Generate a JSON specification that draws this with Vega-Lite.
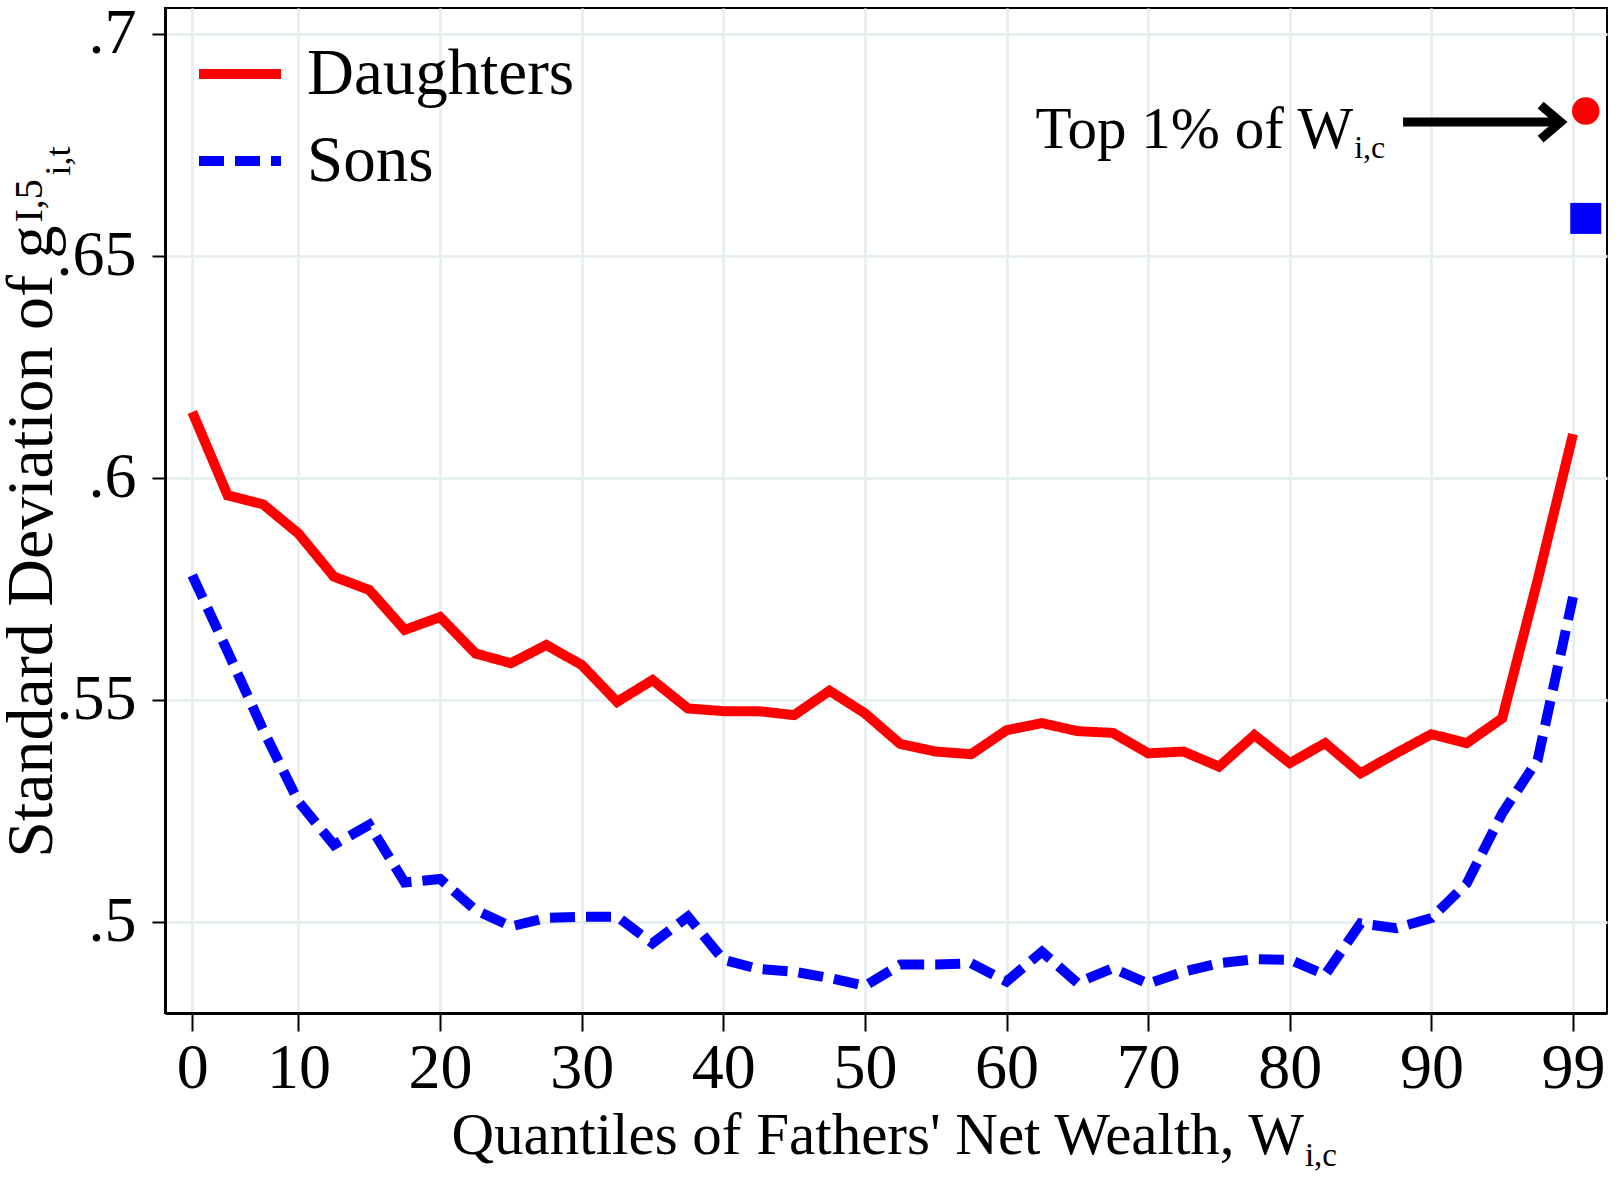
{
  "$schema": "https://vega.github.io/schema/vega-lite/v6.json",
  "width": 1442,
  "height": 1005,
  "autosize": {"type": "none"},
  "padding": {"left": 165, "top": 8, "right": 13, "bottom": 170},
  "background": "white",
  "config": {
    "view": {"stroke": "black", "strokeWidth": 2},
    "font": "Liberation Serif",
    "text": {"font": "Liberation Serif", "color": "black"}
  },
  "datasets": {
    "series": [
      {"idx": 0, "sd": 0.6148, "group": "Daughters"},
      {"idx": 1, "sd": 0.5960, "group": "Daughters"},
      {"idx": 2, "sd": 0.5940, "group": "Daughters"},
      {"idx": 3, "sd": 0.5874, "group": "Daughters"},
      {"idx": 4, "sd": 0.5777, "group": "Daughters"},
      {"idx": 5, "sd": 0.5747, "group": "Daughters"},
      {"idx": 6, "sd": 0.5657, "group": "Daughters"},
      {"idx": 7, "sd": 0.5686, "group": "Daughters"},
      {"idx": 8, "sd": 0.5604, "group": "Daughters"},
      {"idx": 9, "sd": 0.5582, "group": "Daughters"},
      {"idx": 10, "sd": 0.5623, "group": "Daughters"},
      {"idx": 11, "sd": 0.5578, "group": "Daughters"},
      {"idx": 12, "sd": 0.5495, "group": "Daughters"},
      {"idx": 13, "sd": 0.5544, "group": "Daughters"},
      {"idx": 14, "sd": 0.5480, "group": "Daughters"},
      {"idx": 15, "sd": 0.5474, "group": "Daughters"},
      {"idx": 16, "sd": 0.5474, "group": "Daughters"},
      {"idx": 17, "sd": 0.5465, "group": "Daughters"},
      {"idx": 18, "sd": 0.5520, "group": "Daughters"},
      {"idx": 19, "sd": 0.5469, "group": "Daughters"},
      {"idx": 20, "sd": 0.5400, "group": "Daughters"},
      {"idx": 21, "sd": 0.5383, "group": "Daughters"},
      {"idx": 22, "sd": 0.5377, "group": "Daughters"},
      {"idx": 23, "sd": 0.5431, "group": "Daughters"},
      {"idx": 24, "sd": 0.5447, "group": "Daughters"},
      {"idx": 25, "sd": 0.5429, "group": "Daughters"},
      {"idx": 26, "sd": 0.5425, "group": "Daughters"},
      {"idx": 27, "sd": 0.5379, "group": "Daughters"},
      {"idx": 28, "sd": 0.5383, "group": "Daughters"},
      {"idx": 29, "sd": 0.5349, "group": "Daughters"},
      {"idx": 30, "sd": 0.5420, "group": "Daughters"},
      {"idx": 31, "sd": 0.5357, "group": "Daughters"},
      {"idx": 32, "sd": 0.5402, "group": "Daughters"},
      {"idx": 33, "sd": 0.5334, "group": "Daughters"},
      {"idx": 34, "sd": 0.5379, "group": "Daughters"},
      {"idx": 35, "sd": 0.5422, "group": "Daughters"},
      {"idx": 36, "sd": 0.5402, "group": "Daughters"},
      {"idx": 37, "sd": 0.5458, "group": "Daughters"},
      {"idx": 38, "sd": 0.5769, "group": "Daughters"},
      {"idx": 39, "sd": 0.6098, "group": "Daughters"},
      {"idx": 0, "sd": 0.5780, "group": "Sons"},
      {"idx": 1, "sd": 0.5608, "group": "Sons"},
      {"idx": 2, "sd": 0.5432, "group": "Sons"},
      {"idx": 3, "sd": 0.5270, "group": "Sons"},
      {"idx": 4, "sd": 0.5173, "group": "Sons"},
      {"idx": 5, "sd": 0.5218, "group": "Sons"},
      {"idx": 6, "sd": 0.5088, "group": "Sons"},
      {"idx": 7, "sd": 0.5096, "group": "Sons"},
      {"idx": 8, "sd": 0.5026, "group": "Sons"},
      {"idx": 9, "sd": 0.4989, "group": "Sons"},
      {"idx": 10, "sd": 0.5008, "group": "Sons"},
      {"idx": 11, "sd": 0.5011, "group": "Sons"},
      {"idx": 12, "sd": 0.5011, "group": "Sons"},
      {"idx": 13, "sd": 0.4951, "group": "Sons"},
      {"idx": 14, "sd": 0.5011, "group": "Sons"},
      {"idx": 15, "sd": 0.4914, "group": "Sons"},
      {"idx": 16, "sd": 0.4893, "group": "Sons"},
      {"idx": 17, "sd": 0.4887, "group": "Sons"},
      {"idx": 18, "sd": 0.4873, "group": "Sons"},
      {"idx": 19, "sd": 0.4855, "group": "Sons"},
      {"idx": 20, "sd": 0.4903, "group": "Sons"},
      {"idx": 21, "sd": 0.4903, "group": "Sons"},
      {"idx": 22, "sd": 0.4906, "group": "Sons"},
      {"idx": 23, "sd": 0.4865, "group": "Sons"},
      {"idx": 24, "sd": 0.4932, "group": "Sons"},
      {"idx": 25, "sd": 0.4862, "group": "Sons"},
      {"idx": 26, "sd": 0.4895, "group": "Sons"},
      {"idx": 27, "sd": 0.4860, "group": "Sons"},
      {"idx": 28, "sd": 0.4887, "group": "Sons"},
      {"idx": 29, "sd": 0.4906, "group": "Sons"},
      {"idx": 30, "sd": 0.4915, "group": "Sons"},
      {"idx": 31, "sd": 0.4914, "group": "Sons"},
      {"idx": 32, "sd": 0.4880, "group": "Sons"},
      {"idx": 33, "sd": 0.4996, "group": "Sons"},
      {"idx": 34, "sd": 0.4985, "group": "Sons"},
      {"idx": 35, "sd": 0.5008, "group": "Sons"},
      {"idx": 36, "sd": 0.5086, "group": "Sons"},
      {"idx": 37, "sd": 0.5244, "group": "Sons"},
      {"idx": 38, "sd": 0.5364, "group": "Sons"},
      {"idx": 39, "sd": 0.5731, "group": "Sons"}
    ],
    "top1": [
      {"idx": 39.36, "sd": 0.6826, "group": "Daughters"},
      {"idx": 39.36, "sd": 0.6584, "group": "Sons"}
    ]
  },
  "encoding": {
    "x": {
      "field": "idx",
      "type": "quantitative",
      "scale": {"domain": [-0.77, 39.96], "nice": false, "zero": false},
      "axis": {
        "values": [0, 3, 7, 11, 15, 19, 23, 27, 31, 35, 39],
        "labelExpr": "datum.value == 0 ? '0' : datum.value == 39 ? '99' : '' + (datum.value + 1) * 2.5",
        "title": null,
        "grid": true,
        "gridColor": "#e8eff1",
        "gridWidth": 3,
        "domainColor": "black",
        "domainWidth": 3,
        "tickColor": "black",
        "tickWidth": 2,
        "tickSize": 18,
        "labelFont": "Liberation Serif",
        "labelFontSize": 64,
        "labelColor": "black",
        "labelPadding": 5,
        "labelFlush": false,
        "labelOverlap": false
      }
    },
    "y": {
      "field": "sd",
      "type": "quantitative",
      "scale": {"domain": [0.4794, 0.7058], "nice": false, "zero": false},
      "axis": {
        "values": [0.5, 0.55, 0.6, 0.65, 0.7],
        "labelExpr": "replace(format(datum.value, '.2~f'), '0.', '.')",
        "title": null,
        "grid": true,
        "gridColor": "#e8eff1",
        "gridWidth": 3,
        "domainColor": "black",
        "domainWidth": 3,
        "tickColor": "black",
        "tickWidth": 2,
        "tickSize": 13,
        "labelFont": "Liberation Serif",
        "labelFontSize": 64,
        "labelColor": "black",
        "labelPadding": 16,
        "labelFlush": false,
        "labelOverlap": false
      }
    }
  },
  "layer": [
    {
      "data": {"name": "series"},
      "mark": {"type": "line", "strokeWidth": 10, "strokeCap": "butt", "strokeJoin": "miter"},
      "encoding": {
        "color": {
          "field": "group",
          "type": "nominal",
          "scale": {"domain": ["Daughters", "Sons"], "range": ["#ff0000", "#0000ff"]},
          "legend": {
            "orient": "none", "legendX": 29, "legendY": 20, "title": null,
            "symbolType": "stroke", "symbolSize": 6724, "symbolStrokeWidth": 10,
            "labelFont": "Liberation Serif", "labelFontSize": 65, "labelColor": "black",
            "labelOffset": 21, "rowPadding": 8, "padding": 0, "labelLimit": 0
          }
        },
        "strokeDash": {
          "field": "group",
          "type": "nominal",
          "scale": {"domain": ["Daughters", "Sons"], "range": [[1, 0], [25, 11]]},
          "legend": {
            "orient": "none", "legendX": 29, "legendY": 20, "title": null,
            "symbolType": "stroke", "symbolSize": 6724, "symbolStrokeWidth": 10,
            "labelFont": "Liberation Serif", "labelFontSize": 65, "labelColor": "black",
            "labelOffset": 21, "rowPadding": 8, "padding": 0, "labelLimit": 0
          }
        }
      }
    },
    {
      "data": {"name": "top1"},
      "transform": [{"filter": "datum.group == 'Daughters'"}],
      "mark": {"type": "point", "shape": "circle", "filled": true, "size": 755, "color": "#ff0000", "opacity": 1}
    },
    {
      "data": {"name": "top1"},
      "transform": [{"filter": "datum.group == 'Sons'"}],
      "mark": {"type": "point", "shape": "square", "filled": true, "size": 961, "color": "#0000ff", "opacity": 1}
    },
    {
      "data": {"values": [{"idx": 34.2, "idx2": 38.55, "sd": 0.6801}]},
      "mark": {"type": "rule", "color": "black", "strokeWidth": 9, "strokeCap": "butt"},
      "encoding": {"x2": {"field": "idx2"}}
    },
    {
      "data": {"values": [{"idx": 38.65, "sd": 0.6801}]},
      "mark": {"type": "point", "shape": "M -1 -0.85 L 0 0 L -1 0.85", "size": 1600, "filled": false, "stroke": "black", "strokeWidth": 9, "strokeJoin": "miter", "opacity": 1}
    },
    {
      "data": {"values": [{"idx": 32.79, "sd": 0.6743, "label": "Top 1% of W"}]},
      "mark": {"type": "text", "align": "right", "baseline": "alphabetic", "fontSize": 59},
      "encoding": {"text": {"field": "label"}}
    },
    {
      "data": {"values": [{"idx": 32.79, "sd": 0.6743, "label": "i,c"}]},
      "mark": {"type": "text", "align": "left", "baseline": "alphabetic", "fontSize": 32, "dx": 1, "dy": 10},
      "encoding": {"text": {"field": "label"}}
    },
    {
      "data": {"values": [{"idx": 31.40, "sd": 0.4477, "label": "Quantiles of Fathers' Net Wealth, W"}]},
      "mark": {"type": "text", "align": "right", "baseline": "alphabetic", "fontSize": 59},
      "encoding": {"text": {"field": "label"}}
    },
    {
      "data": {"values": [{"idx": 31.40, "sd": 0.4477, "label": "i,c"}]},
      "mark": {"type": "text", "align": "left", "baseline": "alphabetic", "fontSize": 33, "dx": 1, "dy": 12},
      "encoding": {"text": {"field": "label"}}
    },
    {
      "data": {"values": [{"idx": -3.96, "sd": 0.6568, "label": "Standard Deviation of g"}]},
      "mark": {"type": "text", "align": "right", "baseline": "alphabetic", "fontSize": 66, "angle": 270},
      "encoding": {"text": {"field": "label"}}
    },
    {
      "data": {"values": [{"idx": -3.96, "sd": 0.6568, "label": "I,5"}]},
      "mark": {"type": "text", "align": "left", "baseline": "alphabetic", "fontSize": 40, "angle": 270, "dx": 3, "dy": -10},
      "encoding": {"text": {"field": "label"}}
    },
    {
      "data": {"values": [{"idx": -3.96, "sd": 0.6568, "label": "i,t"}]},
      "mark": {"type": "text", "align": "left", "baseline": "alphabetic", "fontSize": 36, "angle": 270, "dx": 50, "dy": 18},
      "encoding": {"text": {"field": "label"}}
    }
  ]
}
